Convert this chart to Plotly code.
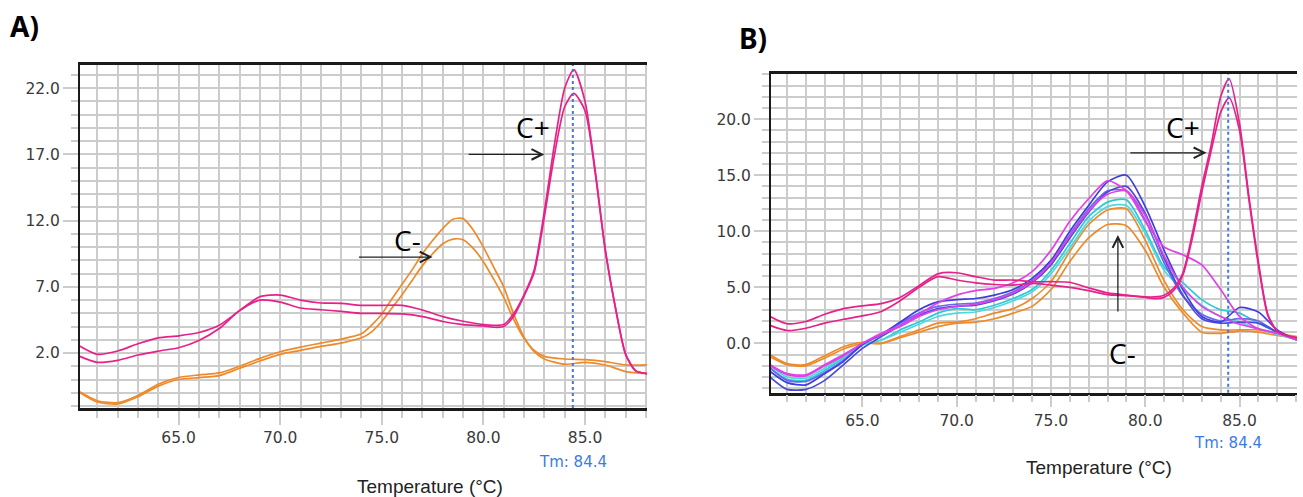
import plotly.graph_objects as go

# ---------------- data ----------------
TM_VALUE = 84.4

# Panel A – positive control (pink) curves
X_A_PINK = [60.1, 61, 62, 63, 64, 65, 66, 67, 68, 69, 70, 71, 72, 73, 74, 75, 76, 77, 78, 79, 80,
            80.5, 81, 81.5, 82, 82.5, 83, 83.5, 84, 84.45, 85, 85.5, 86, 86.5, 87, 87.5, 88.05]
A_PINK_1 = [2.55, 1.9, 2.15, 2.7, 3.15, 3.3, 3.55, 4.1, 5.2, 6.25, 6.38, 6.0, 5.78, 5.75, 5.6, 5.6, 5.6,
            5.25, 4.75, 4.4, 4.15, 4.1, 4.15, 5.0, 6.4, 8.3, 12.7, 17.8, 22.0, 23.4, 21.0, 15.8, 9.8,
            5.4, 1.9, 0.65, 0.45]
A_PINK_2 = [1.77, 1.3, 1.45, 1.85, 2.15, 2.4, 2.95, 3.85, 5.2, 6.0, 5.85, 5.4, 5.27, 5.15, 5.0, 5.0, 4.95,
            4.75, 4.38, 4.15, 4.05, 3.95, 4.0, 4.8, 6.3, 8.1, 12.3, 17.0, 20.6, 21.6, 20.3, 15.6, 9.7,
            5.4, 1.9, 0.65, 0.45]

# Panel A – negative control (orange) curves
X_A_ORANGE = [60.1, 61, 62, 63, 64, 65, 66, 67, 68, 69, 70, 71, 72, 73, 74, 74.5, 75, 75.5, 76, 76.5,
              77, 77.5, 78, 78.5, 79, 79.5, 80, 80.5, 81, 81.5, 82, 82.5, 83, 84, 85, 86, 87, 88.05]
A_ORANGE_1 = [-0.9, -1.6, -1.75, -1.2, -0.35, 0.15, 0.35, 0.5, 1.0, 1.6, 2.1, 2.45, 2.75, 3.05, 3.45,
              4.1, 4.95, 6.1, 7.2, 8.3, 9.5, 10.5, 11.4, 12.1, 12.15, 11.3, 10.0, 8.5, 7.0, 4.9, 3.2,
              2.1, 1.55, 1.15, 1.3, 1.1, 0.6, 0.45]
A_ORANGE_2 = [-0.95, -1.7, -1.85, -1.3, -0.5, 0.0, 0.15, 0.3, 0.85, 1.4, 1.9, 2.2, 2.5, 2.75, 3.15,
              3.6, 4.4, 5.4, 6.4, 7.5, 8.6, 9.5, 10.25, 10.6, 10.55, 9.9, 8.9, 7.6, 6.2, 4.5, 3.1,
              2.2, 1.75, 1.55, 1.5, 1.35, 1.1, 1.1]

# Panel B – positive control (pink) curves
X_B_PINK = X_A_PINK
B_PINK_1 = [2.4, 1.75, 1.95, 2.6, 3.1, 3.35, 3.55, 4.1, 5.15, 6.2, 6.3, 5.95, 5.65, 5.65, 5.5, 5.5, 5.45,
            4.95, 4.5, 4.3, 4.15, 4.15, 4.3, 4.9, 6.3, 9.8, 14.0, 17.7, 22.0, 23.6, 19.6, 13.1, 7.3,
            2.6, 1.1, 0.7, 0.5]
B_PINK_2 = [1.6, 1.15, 1.35, 1.8, 2.15, 2.45, 2.85, 3.8, 5.0, 5.95, 5.65, 5.4, 5.25, 5.2, 5.35, 5.2, 5.0,
            4.7, 4.35, 4.25, 4.1, 4.0, 4.1, 4.7, 6.1, 9.4, 13.5, 17.2, 20.6, 21.9, 19.0, 12.8, 7.0,
            2.5, 1.1, 0.7, 0.5]

# Panel B – samples
X_B = [60.1, 61, 62, 63, 64, 65, 66, 67, 68, 69, 70, 71, 72, 73, 74, 75, 76, 77, 78, 79, 80,
       81, 82, 83, 84, 85, 86, 87, 88.05]
B_BLUE_1 = [-2.5, -3.5, -3.7, -2.7, -1.6, -0.1, 0.8, 1.9, 3.0, 3.7, 3.9, 4.0, 4.3, 4.8, 5.8, 7.4, 10.0,
            12.3, 14.4, 15.0, 12.2, 8.3, 4.8, 2.4, 1.9, 3.2, 2.8, 1.2, 0.3]
B_BLUE_2 = [-3.0, -4.1, -4.1, -3.3, -1.9, -0.45, 0.6, 1.6, 2.5, 3.1, 3.3, 3.4, 3.8, 4.4, 5.4, 7.0, 9.4,
            11.7, 13.5, 14.0, 11.6, 7.6, 4.3, 2.2, 1.8, 1.9, 1.8, 1.0, 0.3]
B_BLUE_3 = [-2.2, -3.3, -3.4, -2.6, -1.5, -0.1, 0.8, 1.8, 2.7, 3.3, 3.5, 3.6, 4.0, 4.6, 5.6, 7.2, 9.7,
            12.0, 13.6, 13.6, 11.0, 7.2, 4.2, 2.6, 2.0, 2.2, 2.0, 1.0, 0.4]
B_MAGENTA_1 = [-1.9, -2.7, -2.8, -1.9, -1.0, 0.0, 0.9, 1.6, 2.6, 3.6, 4.3, 4.7, 4.9, 5.4, 6.4, 8.3, 10.9,
               12.9, 14.5, 13.6, 10.9, 8.6, 7.9, 7.0, 4.8, 2.4, 1.3, 0.9, 0.3]
B_MAGENTA_2 = [-2.0, -2.8, -2.9, -2.0, -1.1, 0.0, 0.8, 1.5, 2.4, 3.0, 3.3, 3.5, 3.9, 4.5, 5.5, 7.2, 9.6,
               11.8, 13.3, 13.6, 11.4, 7.8, 5.0, 3.3, 2.4, 1.7, 1.3, 0.9, 0.4]
B_CYAN_1 = [-2.2, -3.2, -3.3, -2.4, -1.3, -0.15, 0.3, 1.2, 1.9, 2.7, 3.1, 3.0, 3.4, 4.0, 4.8, 6.5, 8.9,
            11.3, 12.6, 12.8, 10.1, 6.8, 5.4, 3.9, 3.0, 2.7, 1.8, 1.0, 0.3]
B_CYAN_2 = [-2.0, -3.0, -3.1, -2.2, -1.2, -0.1, 0.3, 1.0, 1.7, 2.4, 2.7, 2.8, 3.2, 3.8, 4.6, 6.2, 8.5,
            10.9, 12.2, 12.3, 9.8, 6.5, 4.8, 3.4, 2.4, 1.9, 1.3, 0.8, 0.3]
B_ORANGE_1 = [-1.2, -1.9, -2.0, -1.3, -0.5, 0.0, 0.0, 0.6, 1.2, 1.8, 1.9, 2.2, 2.7, 3.1, 4.0, 5.5, 8.2,
              10.6, 11.9, 12.0, 9.2, 5.6, 3.0, 1.5, 1.2, 1.2, 1.2, 0.9, 0.6]
B_ORANGE_2 = [-1.0, -1.8, -1.9, -1.1, -0.3, 0.1, 0.0, 0.5, 1.0, 1.5, 1.8, 1.9, 2.2, 2.7, 3.3, 4.8, 7.3,
              9.4, 10.6, 10.5, 8.3, 5.0, 2.7, 1.0, 0.9, 1.1, 1.0, 0.7, 0.5]

# ---------------- styles ----------------
PINK = "#e6228a"
ORANGE = "#ee8a2a"
MAGENTA = "#e040e6"
BLUE_1 = "#3d3de0"
BLUE_2 = "#4a4ad8"
BLUE_3 = "#6868ee"
CYAN_1 = "#2ec9d6"
CYAN_2 = "#4fd8de"
GRID = "#cccccc"
TM_BLUE = "#3a7be6"
TICK_FONT = dict(family="DejaVu Sans", size=15.5, color="#3a3a3a")
LW = 1.7

fig = go.Figure()


def add(x, y, color, xa, ya):
    fig.add_trace(go.Scatter(x=x, y=y, mode="lines", xaxis=xa, yaxis=ya, showlegend=False,
                             line=dict(color=color, width=LW, shape="spline", smoothing=0.7),
                             hoverinfo="skip"))


# Panel A
add(X_A_ORANGE, A_ORANGE_1, ORANGE, "x", "y")
add(X_A_ORANGE, A_ORANGE_2, ORANGE, "x", "y")
add(X_A_PINK, A_PINK_1, PINK, "x", "y")
add(X_A_PINK, A_PINK_2, PINK, "x", "y")

# Panel B
add(X_B, B_ORANGE_1, ORANGE, "x2", "y2")
add(X_B, B_ORANGE_2, ORANGE, "x2", "y2")
add(X_B, B_CYAN_1, CYAN_1, "x2", "y2")
add(X_B, B_CYAN_2, CYAN_2, "x2", "y2")
add(X_B, B_BLUE_3, BLUE_3, "x2", "y2")
add(X_B, B_BLUE_2, BLUE_2, "x2", "y2")
add(X_B, B_BLUE_1, BLUE_1, "x2", "y2")
add(X_B, B_MAGENTA_2, MAGENTA, "x2", "y2")
add(X_B, B_MAGENTA_1, MAGENTA, "x2", "y2")
add(X_B_PINK, B_PINK_1, PINK, "x2", "y2")
add(X_B_PINK, B_PINK_2, PINK, "x2", "y2")


def xaxis(domain, anchor, tlen):
    return dict(domain=domain, anchor=anchor, range=[60.15, 88.05], tick0=65, dtick=5,
                tickformat=".1f", ticks="outside", ticklen=tlen, tickwidth=2, tickcolor=GRID,
                showgrid=True, gridcolor=GRID, gridwidth=2, zeroline=False,
                showline=True, linecolor="#1a1a1a", linewidth=2.5, mirror=True,
                tickfont=TICK_FONT,
                minor=dict(dtick=1, tick0=65, ticks="outside", ticklen=7, tickwidth=2,
                           tickcolor=GRID, showgrid=True, gridcolor=GRID, gridwidth=2))


def yaxis(domain, anchor, rng, tick0):
    return dict(domain=domain, anchor=anchor, range=rng, tick0=tick0, dtick=5,
                tickformat=".1f", ticks="outside", ticklen=15, tickwidth=2, tickcolor=GRID,
                showgrid=True, gridcolor=GRID, gridwidth=2, zeroline=False,
                showline=True, linecolor="#1a1a1a", linewidth=2, mirror=False,
                tickfont=TICK_FONT,
                minor=dict(dtick=1, tick0=tick0, ticks="outside", ticklen=7, tickwidth=2,
                           tickcolor=GRID, showgrid=True, gridcolor=GRID, gridwidth=2))


W, H = 1303, 497
fig.update_layout(
    width=W, height=H, margin=dict(l=0, r=0, t=0, b=0),
    paper_bgcolor="white", plot_bgcolor="white",
    xaxis=xaxis([80 / W, 647 / W], "y", 14),
    yaxis=yaxis([1 - 408 / H, 1 - 65 / H], "x", [-2.15, 23.75], 2),
    xaxis2=xaxis([771 / W, 1297 / W], "y2", 12),
    yaxis2=yaxis([1 - 392.7 / H, 1 - 74.3 / H], "x2", [-4.4, 24.0], 0),
)

# Tm dashed lines
for xr, yr in (("x", "y domain"), ("x2", "y2 domain")):
    fig.add_shape(type="line", xref=xr, yref=yr, x0=TM_VALUE, x1=TM_VALUE, y0=0, y1=1,
                  line=dict(color=TM_BLUE, width=2, dash="3px,3px"))

CM = dict(xanchor="center", yanchor="middle", showarrow=False)
ann = []
LABEL_FONT = dict(family="Noto Sans", size=28, color="black")
ann.append(dict(text="<b>A)</b>", x=24 / W, y=1 - 26 / H, xref="paper", yref="paper",
                font=LABEL_FONT, **CM))
ann.append(dict(text="<b>B)</b>", x=753 / W, y=1 - 38 / H, xref="paper", yref="paper",
                font=LABEL_FONT, **CM))
TITLE_FONT = dict(family="Liberation Sans", size=19, color="#222222")
ann.append(dict(text="Temperature (°C)", x=430 / W, y=1 - 486 / H, xref="paper", yref="paper",
                font=TITLE_FONT, **CM))
ann.append(dict(text="Temperature (°C)", x=1099 / W, y=1 - 467 / H, xref="paper", yref="paper",
                font=TITLE_FONT, **CM))
TM_FONT = dict(family="DejaVu Sans", size=15, color=TM_BLUE)
ann.append(dict(text=f"Tm: {TM_VALUE}", x=TM_VALUE, y=1 - 462 / H, xref="x", yref="paper",
                font=TM_FONT, **CM))
ann.append(dict(text=f"Tm: {TM_VALUE}", x=TM_VALUE, y=1 - 443 / H, xref="x2", yref="paper",
                font=TM_FONT, **CM))

C_FONT = dict(family="Open Sans", size=28, color="black")
ann += [
    dict(text="C+", x=82.45, y=19.05, xref="x", yref="y", font=C_FONT, **CM),
    dict(text="C-", x=76.25, y=10.5, xref="x", yref="y", font=C_FONT, **CM),
    dict(text="C+", x=81.98, y=19.3, xref="x2", yref="y2", font=C_FONT, **CM),
    dict(text="C-", x=78.8, y=-0.9, xref="x2", yref="y2", font=C_FONT, **CM),
]
ARROW = dict(text="", showarrow=True, arrowhead=5, arrowsize=1.6, arrowwidth=1.3,
             arrowcolor="#222222")
ann += [
    dict(x=83.0, y=17.0, ax=79.2, ay=17.0, xref="x", yref="y", axref="x", ayref="y", **ARROW),
    dict(x=77.5, y=9.25, ax=73.8, ay=9.25, xref="x", yref="y", axref="x", ayref="y", **ARROW),
    dict(x=83.25, y=17.0, ax=79.13, ay=17.0, xref="x2", yref="y2", axref="x2", ayref="y2", **ARROW),
    dict(x=78.55, y=9.67, ax=78.55, ay=2.7, xref="x2", yref="y2", axref="x2", ayref="y2", **ARROW),
]
fig.update_layout(annotations=ann)

fig.write_html("out.html", config={"displayModeBar": False},
               post_script="document.body.style.margin='0';document.body.style.padding='0';")
